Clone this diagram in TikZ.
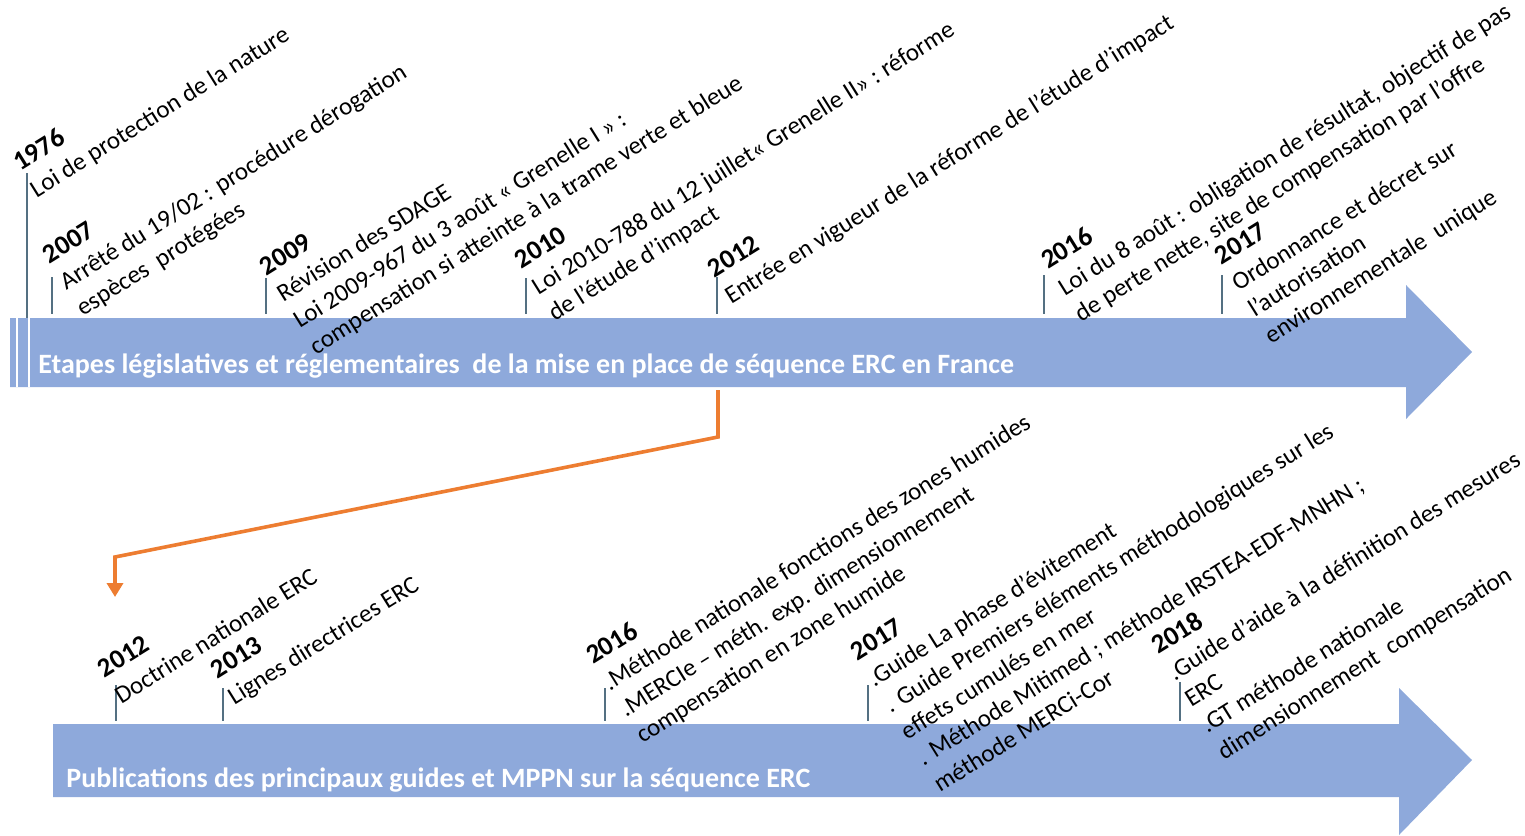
\documentclass[tikz,border=0pt]{standalone}
\usepackage{fontspec}
\setmainfont{Carlito}
\usetikzlibrary{arrows.meta}
\definecolor{cBand}{RGB}{142,169,219}
\definecolor{cTick}{RGB}{84,112,130}
\definecolor{cOrange}{RGB}{237,125,49}
\newcommand{\annee}[1]{{\fontsize{13.5}{15.5}\selectfont\bfseries #1}}
\tikzset{
	band/.style     ={fill=cBand},
	bandtitle/.style={anchor=base west, inner sep=0pt, text=white, font=\bfseries\fontsize{14}{16}\selectfont},
	jalon/.style    ={draw=cTick, line width=0.8pt},
	lbl/.style      ={anchor=north west, rotate=32, align=left, inner sep=0pt, font=\fontsize{12.5}{15.5}\selectfont},
	link/.style     ={draw=cOrange, line width=1.8pt, -{Triangle[length=7pt, width=8pt]}},
}

\begin{document}
\begin{tikzpicture}[x=0.5pt, y=-0.5pt]
	\useasboundingbox (0,0) rectangle (1525,835);
	% frise du haut
	\fill[band] (10,318) -- (1406,318) -- (1406,285) -- (1472,352) -- (1406,419) -- (1406,387) -- (10,387) -- cycle;
	\draw[white, line width=1pt] (17,318) -- (17,387);
	\draw[white, line width=1pt] (29,318) -- (29,387);
	\node[bandtitle] (titre1) at (38,373) {Etapes législatives et réglementaires\ \ de la mise en place de séquence ERC en France};
	\draw[jalon] (27,173) -- (27,318);
	\draw[jalon] (52,277) -- (52,314);
	\draw[jalon] (266,278) -- (266,314);
	\draw[jalon] (526,278) -- (526,314);
	\draw[jalon] (717,277) -- (717,314);
	\draw[jalon] (1044,275) -- (1044,314);
	\draw[jalon] (1222,275) -- (1222,314);
	\node[lbl] (e1976) at (10,156) {\annee{1976}\\Loi de protection de la nature};
	\node[lbl] (e2007) at (40,249) {\annee{2007}\\Arrêté du 19/02 : procédure dérogation\\espèces\ \ protégées};
	\node[lbl] (e2009) at (257,261) {\annee{2009}\\Révision des SDAGE\\Loi 2009-967 du 3 août « Grenelle I » :\\compensation si atteinte à la trame verte et bleue};
	\node[lbl] (e2010) at (512,254) {\annee{2010}\\Loi 2010-788 du 12 juillet« Grenelle II» : réforme\\de l'étude d'impact};
	\node[lbl] (e2012) at (705,263) {\annee{2012}\\Entrée en vigueur de la réforme de l'étude d’impact};
	\node[lbl] (e2016) at (1038,254) {\annee{2016}\\Loi du 8 août : obligation de résultat, objectif de pas\\de perte nette, site de compensation par l'offre};
	\node[lbl] (e2017) at (1212,250) {\annee{2017}\\Ordonnance et décret sur\\l'autorisation\\environnementale\ \ unique};
	% frise du bas
	\fill[band] (53,724) -- (1399,724) -- (1399,688) -- (1472,760) -- (1399,835) -- (1399,797) -- (53,797) -- cycle;
	\node[bandtitle] (titre2) at (66,787) {Publications des principaux guides et MPPN sur la séquence ERC};
	\draw[jalon] (116,685) -- (116,721);
	\draw[jalon] (223,688) -- (223,721);
	\draw[jalon] (605,688) -- (605,721);
	\draw[jalon] (868,685) -- (868,721);
	\draw[jalon] (1180,682) -- (1180,721);
	\node[lbl] (p2012) at (95,663) {\annee{2012}\\Doctrine nationale ERC};
	\node[lbl] (p2013) at (208,664) {\annee{2013}\\Lignes directrices ERC};
	\node[lbl] (p2016) at (583,649) {\annee{2016}\\.Méthode nationale fonctions des zones humides\\.MERCIe – méth. exp. dimensionnement\\compensation en zone humide};
	\node[lbl] (p2017) at (848,646) {\annee{2017}\\.Guide La phase d’évitement\\. Guide Premiers éléments méthodologiques sur les\\effets cumulés en mer\\. Méthode Mitimed ; méthode IRSTEA-EDF-MNHN ;\\méthode MERCi-Cor};
	\node[lbl] (p2018) at (1148,639) {\annee{2018}\\.Guide d’aide à la définition des mesures\\ERC\\.GT méthode nationale\\dimensionnement\ \ compensation};
	% renvoi 2012
	\coordinate (src) at (718,390);
	\coordinate (k1) at (718,437);
	\coordinate (k2) at (115,557);
	\coordinate (dst) at (115,597);
	\draw[link] (src) -- (k1) -- (k2) -- (dst);
\end{tikzpicture}
\end{document}
